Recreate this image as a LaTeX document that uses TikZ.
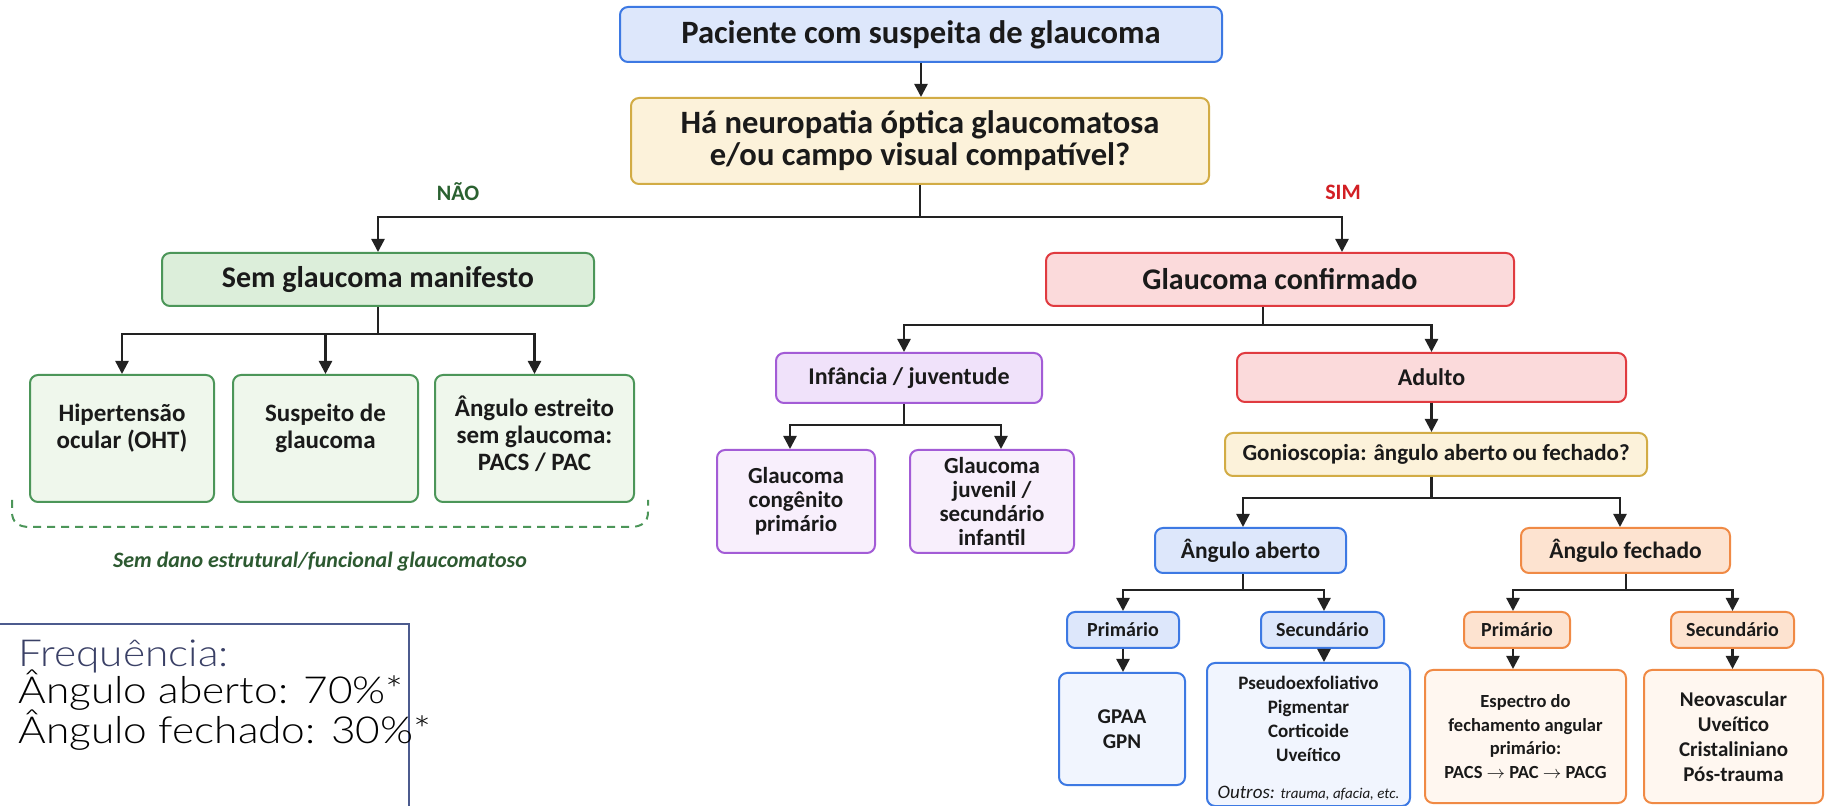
\documentclass[tikz,border=0pt]{standalone}
\usepackage{fontspec}
\setmainfont{Carlito}
\newfontfamily\freqfont{Lato Light}[FakeStretch=1.14]
\usetikzlibrary{arrows.meta,calc}
\definecolor{blueB}{HTML}{3D79E3}
\definecolor{blueF}{HTML}{DDE7FB}
\definecolor{blueF2}{HTML}{F1F5FE}
\definecolor{goldB}{HTML}{D2AC45}
\definecolor{goldF}{HTML}{FCF2DA}
\definecolor{greenB}{HTML}{4C9659}
\definecolor{greenF}{HTML}{DCEEDA}
\definecolor{greenF2}{HTML}{EFF7EC}
\definecolor{redB}{HTML}{E03B40}
\definecolor{redF}{HTML}{FBDADB}
\definecolor{purB}{HTML}{A35CD6}
\definecolor{purF}{HTML}{F0E2FA}
\definecolor{purF2}{HTML}{F8EFFC}
\definecolor{oraB}{HTML}{F08A45}
\definecolor{oraF}{HTML}{FDE3D0}
\definecolor{oraF2}{HTML}{FFF7F0}
\definecolor{arrc}{HTML}{222222}
\definecolor{txtc}{HTML}{1A1A1A}
\definecolor{naoc}{HTML}{2A6130}
\definecolor{simc}{HTML}{D21F24}
\definecolor{semdanoc}{HTML}{2D5A31}
\definecolor{freqB}{HTML}{4C5B8E}
\definecolor{freqc}{HTML}{3A4066}
\begin{document}
\begin{tikzpicture}[x=0.5pt,y=-0.5pt,
  box/.style={draw, rounded corners=4pt, line width=1pt, align=center, inner sep=0pt, text=txtc},
  wh/.style 2 args={minimum width=#1pt, minimum height=#2pt},
  fA/.style={font=\bfseries\fontsize{16.3}{16}\selectfont},
  fB/.style={font=\bfseries\fontsize{15}{16}\selectfont},
  fC/.style={font=\bfseries\fontsize{12}{13}\selectfont},
  fD/.style={font=\bfseries\fontsize{12.5}{13.5}\selectfont},
  fE/.style={font=\bfseries\fontsize{11.5}{12}\selectfont},
  fF/.style={font=\bfseries\fontsize{10}{12}\selectfont},
  fG/.style={font=\bfseries\fontsize{10.5}{12.5}\selectfont},
  fH/.style={font=\bfseries\fontsize{9.5}{12}\selectfont},
  fI/.style={font=\bfseries\fontsize{9.25}{11.75}\selectfont},
  txtonly/.style={align=center, inner sep=0pt, text=txtc},
  ln/.style={draw=arrc, line width=1.2pt},
  arr/.style={ln, -{Triangle[length=6.5pt,width=6.5pt]}},
  lab/.style={font=\bfseries\fontsize{11}{12}\selectfont, inner sep=0pt},
  freqt/.style={font=\freqfont\fontsize{18.6}{22}\selectfont, inner sep=0pt, anchor=base west}
]
\clip (0,0) rectangle (1826,806);
\fill[white] (0,0) rectangle (1826,806);

% level 0/1
\node[box, draw=blueB, fill=blueF, fA, wh={301}{27.5}] (top) at (921,34.5) {Paciente com suspeita de glaucoma};
\node[box, draw=goldB, fill=goldF, fA, wh={289}{43}] (q) at (920,141) {Há neuropatia óptica glaucomatosa\\e/ou campo visual compatível?};
\node[box, draw=greenB, fill=greenF, fB, wh={216}{26.5}] (sem) at (378,279.5) {Sem glaucoma manifesto};
\node[box, draw=redB, fill=redF, fB, wh={234}{26.5}] (conf) at (1280,279.5) {Glaucoma confirmado};

\node[lab, text=naoc] (nao) at (458,192) {NÃO};
\node[lab, text=simc] (sim) at (1343,192) {SIM};

% green leaves
\node[box, draw=greenB, fill=greenF2, wh={92}{63.5}] (hip) at (122,438.5) {};
\node[txtonly, fD] (hipt) at (122,428) {Hipertensão\\ocular (OHT)};
\node[box, draw=greenB, fill=greenF2, wh={92.5}{63.5}] (susp) at (325.5,438.5) {};
\node[txtonly, fD] (suspt) at (325.5,428) {Suspeito de\\glaucoma};
\node[box, draw=greenB, fill=greenF2, wh={99.5}{63.5}] (estr) at (534.5,438.5) {};
\node[txtonly, fD] (estrt) at (534.5,434) {Ângulo estreito\\sem glaucoma:\\PACS / PAC};

\draw[draw=greenB, line width=1pt, dash pattern=on 4pt off 3pt]
  (12,500) -- (12,512) .. controls (12,522) and (18,527) .. (30,527) -- (630,527)
  .. controls (642,527) and (648,522) .. (648,512) -- (648,500);
\node[font=\bfseries\itshape\fontsize{11}{13}\selectfont, text=semdanoc, inner sep=0pt] (semdano) at (320,562) {Sem dano estrutural/funcional glaucomatoso};

% confirmed branch
\node[box, draw=purB, fill=purF, fC, wh={133}{25}] (inf) at (909,378) {Infância / juventude};
\node[box, draw=redB, fill=redF, fC, wh={194.5}{24.5}] (adu) at (1431.5,377.5) {Adulto};
\node[box, draw=purB, fill=purF2, fE, wh={79}{51.5}] (cong) at (796,501.5) {Glaucoma\\congênito\\primário};
\node[box, draw=purB, fill=purF2, fE, wh={82}{51.5}] (juv) at (992,501.5) {Glaucoma\\juvenil /\\secundário\\infantil};
\node[box, draw=goldB, fill=goldF, font=\bfseries\fontsize{11.5}{12}\selectfont, wh={211}{21.5}] (gon) at (1436,454.5) {Gonioscopia: ângulo aberto ou fechado?};
\node[box, draw=blueB, fill=blueF, font=\bfseries\fontsize{11.75}{12}\selectfont, wh={95.5}{22.5}] (ab) at (1250.5,550.5) {Ângulo aberto};
\node[box, draw=oraB, fill=oraF, font=\bfseries\fontsize{11.75}{12}\selectfont, wh={104.5}{22.5}] (fe) at (1625.5,550.5) {Ângulo fechado};
\node[box, draw=blueB, fill=blueF, fF, wh={56}{18}] (abP) at (1123,630) {Primário};
\node[box, draw=blueB, fill=blueF, fF, wh={61.5}{18}] (abS) at (1322.5,630) {Secundário};
\node[box, draw=oraB, fill=oraF, fF, wh={53}{18}] (feP) at (1517,630) {Primário};
\node[box, draw=oraB, fill=oraF, fF, wh={61.5}{18}] (feS) at (1732.5,630) {Secundário};
\node[box, draw=blueB, fill=blueF2, fG, wh={63}{56}] (gpaa) at (1122,729) {GPAA\\GPN};
\node[box, draw=blueB, fill=blueF2, wh={101.5}{71.5}] (pseudo) at (1308.5,734.5) {};
\node[txtonly, fH] (pseudot) at (1308.5,719) {Pseudoexfoliativo\\Pigmentar\\Corticoide\\Uveítico};
\node[txtonly, font=\itshape\fontsize{9.5}{11}\selectfont] (outros) at (1308.5,793) {Outros: {\fontsize{7.5}{8}\selectfont trauma, afacia, etc.}};
\node[box, draw=oraB, fill=oraF2, fI, wh={100.5}{66.5}] (esp) at (1525.5,736.5) {Espectro do\\fechamento angular\\primário:\\PACS $\rightarrow$ PAC $\rightarrow$ PACG};
\node[box, draw=oraB, fill=oraF2, fG, wh={89.5}{66.5}] (neo) at (1733.5,736.5) {Neovascular\\Uveítico\\Cristaliniano\\Pós-trauma};

% connectors
\draw[arr] (top.south) -- (top.south |- q.north);
\coordinate (qj) at (920,217);
\draw[ln] (q.south) -- (qj);
\draw[arr] (qj) -| (sem.north);
\draw[arr] (qj) -| ([xshift=31pt]conf.north);

\coordinate (sj) at (378,334);
\draw[ln] (sem.south) -- (sj);
\draw[arr] (sj) -| (hip.north);
\draw[arr] (sj) -| (susp.north);
\draw[arr] (sj) -| (estr.north);

\coordinate (cj) at (1263,325);
\draw[ln] (conf.south -| cj) -- (cj);
\draw[arr] (cj) -| ([xshift=-2.5pt]inf.north);
\draw[arr] (cj) -| (adu.north);

\coordinate (ij) at (904,425);
\draw[ln] (inf.south -| ij) -- (ij);
\draw[arr] (ij) -| ([xshift=-3pt]cong.north);
\draw[arr] (ij) -| ([xshift=4.5pt]juv.north);

\draw[arr] (adu.south) -- (adu.south |- gon.north);
\coordinate (gj) at (1431.5,498);
\draw[ln] (gon.south -| gj) -- (gj);
\draw[arr] (gj) -| ([xshift=-3.75pt]ab.north);
\draw[arr] (gj) -| ([xshift=-2.75pt]fe.north);

\coordinate (aj) at (1243,590);
\draw[ln] (ab.south -| aj) -- (aj);
\draw[arr] (aj) -| (abP.north);
\draw[arr] (aj) -| ([xshift=0.75pt]abS.north);
\coordinate (fj) at (1626,590);
\draw[ln] (fe.south -| fj) -- (fj);
\draw[arr] (fj) -| ([xshift=-2pt]feP.north);
\draw[arr] (fj) -| (feS.north);

\draw[arr] (abP.south) -- (abP.south |- gpaa.north);
\draw[arr] ([xshift=0.75pt]abS.south) -- ([xshift=0.75pt]abS.south |- pseudo.north);
\draw[arr] ([xshift=-2pt]feP.south) -- ([xshift=-2pt]feP.south |- esp.north);
\draw[arr] (feS.south) -- (feS.south |- neo.north);

% frequency box
\draw[draw=freqB, line width=1.2pt] (-5,624) rectangle (409,840);
\node[freqt, text=freqc] (f1) at (18,667) {Frequência:};
\node[freqt, text=black] (f2) at (18,704) {Ângulo aberto: 70\%*};
\node[freqt, text=black] (f3) at (18,743) {Ângulo fechado: 30\%*};
\end{tikzpicture}
\end{document}
